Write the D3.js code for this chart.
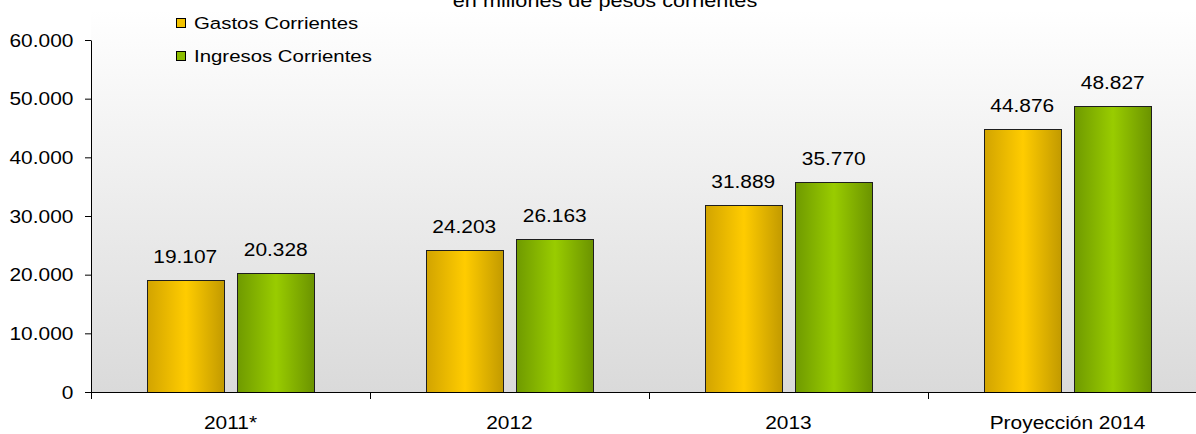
<!DOCTYPE html>
<html>
<head>
<meta charset="utf-8">
<script src="https://cdn.jsdelivr.net/npm/d3@7"></script>
<style>
  body { margin: 0; background: #fff; overflow: hidden; }
  svg { display: block; font-family: "Liberation Sans", Arial, sans-serif; }
</style>
</head>
<body>
<svg id="chart"></svg>
<script>
// data
const categories = ["2011*", "2012", "2013", "Proyección 2014"];
const series = ["Gastos Corrientes", "Ingresos Corrientes"];
const gastos = [19107, 24203, 31889, 44876];
const ingresos = [20328, 26163, 35770, 48827];
const yTicks = [0, 10000, 20000, 30000, 40000, 50000, 60000];
const title = "en millones de pesos corrientes";

const values = { "Gastos Corrientes": gastos, "Ingresos Corrientes": ingresos };
const colors = {
  "Gastos Corrientes": { id: "gradGastos", edge: "#d2a400", mid: "#ffcc00", edge2: "#c29a00", key: "#f2c200" },
  "Ingresos Corrientes": { id: "gradIngresos", edge: "#6f9a00", mid: "#99cc00", edge2: "#6b9300", key: "#8cbd00" }
};

const W = 1196, H = 434;
const plot = { left: 91, right: 1207, top: 40, bottom: 392 };

const fmt = d3.formatLocale({ decimal: ",", thousands: ".", grouping: [3], currency: ["$", ""] }).format(",d");

const svg = d3.select("#chart").attr("width", W).attr("height", H);

const y = d3.scaleLinear().domain([0, 60000]).range([plot.bottom, plot.top]);
const x0 = d3.scaleBand().domain(categories).range([plot.left, plot.right]);
const x1 = d3.scaleBand()
  .domain(series)
  .range([x0.bandwidth() * 0.2, x0.bandwidth() * 0.8])
  .paddingInner(0.15);
const xEdge = d3.scaleLinear().domain([0, categories.length]).range([plot.left, plot.right]);

// gradients
const defs = svg.append("defs");
const bg = defs.append("linearGradient").attr("id", "bgGrad")
  .attr("x1", 0).attr("y1", 0).attr("x2", 0).attr("y2", 1);
bg.append("stop").attr("offset", "0%").attr("stop-color", "#ffffff");
bg.append("stop").attr("offset", "100%").attr("stop-color", "#dadada");

series.forEach(function (s) {
  const c = colors[s];
  const g = defs.append("linearGradient").attr("id", c.id)
    .attr("x1", 0).attr("y1", 0).attr("x2", 1).attr("y2", 0);
  g.append("stop").attr("offset", "0%").attr("stop-color", c.edge);
  g.append("stop").attr("offset", "50%").attr("stop-color", c.mid);
  g.append("stop").attr("offset", "100%").attr("stop-color", c.edge2);
});

// plot background
svg.append("rect")
  .attr("x", plot.left)
  .attr("y", 10)
  .attr("width", plot.right - plot.left)
  .attr("height", plot.bottom - 10)
  .attr("fill", "url(#bgGrad)");

// title (cut off at top, as in the original)
svg.append("text")
  .attr("transform", "translate(605,7) scale(1.14,1)")
  .attr("text-anchor", "middle")
  .style("font-size", "19px")
  .text(title);

// bars
const groups = svg.append("g")
  .selectAll("g")
  .data(categories)
  .join("g")
  .attr("transform", function (c) { return "translate(" + x0(c) + ",0)"; });

groups.selectAll("rect")
  .data(function (c, i) { return series.map(function (s) { return { s: s, v: values[s][i] }; }); })
  .join("rect")
  .attr("x", function (d) { return Math.round(x1(d.s)) + 0.5; })
  .attr("y", function (d) { return Math.round(y(d.v)) + 0.5; })
  .attr("width", Math.round(x1.bandwidth()))
  .attr("height", function (d) { return plot.bottom - Math.round(y(d.v)); })
  .attr("fill", function (d) { return "url(#" + colors[d.s].id + ")"; })
  .attr("stroke", "#1e1e1e")
  .attr("stroke-width", 1);

groups.selectAll("text")
  .data(function (c, i) { return series.map(function (s) { return { s: s, v: values[s][i] }; }); })
  .join("text")
  .attr("transform", function (d) {
    return "translate(" + (x1(d.s) + x1.bandwidth() / 2) + "," + (y(d.v) - 17) + ") scale(1.1,1)";
  })
  .attr("text-anchor", "middle")
  .style("font-size", "19px")
  .text(function (d) { return fmt(d.v); });

// y axis
const yAxis = svg.append("g")
  .attr("transform", "translate(" + plot.left + ",0)")
  .call(d3.axisLeft(y).tickValues(yTicks).tickFormat(fmt).tickSize(6).tickSizeOuter(0).tickPadding(10));
yAxis.selectAll("path, line").attr("stroke", "#000");
yAxis.selectAll("text")
  .attr("fill", "#000")
  .style("font-size", "19px")
  .style("font-family", "'Liberation Sans', Arial, sans-serif")
  .attr("transform", "scale(1.1,1)");

// x axis: edge ticks between categories
const xTicks = svg.append("g")
  .attr("transform", "translate(0," + plot.bottom + ")")
  .call(d3.axisBottom(xEdge).tickValues(d3.range(categories.length + 1)).tickFormat("").tickSize(7).tickSizeOuter(0));
xTicks.selectAll("path, line").attr("stroke", "#000");

// x axis: category labels
const xLabels = svg.append("g")
  .attr("transform", "translate(0," + plot.bottom + ")")
  .call(d3.axisBottom(x0).tickSize(0));
xLabels.select(".domain").remove();
xLabels.selectAll("text")
  .attr("y", 37)
  .attr("dy", null)
  .attr("fill", "#000")
  .style("font-size", "19px")
  .style("font-family", "'Liberation Sans', Arial, sans-serif")
  .attr("transform", "scale(1.1,1)");

// legend
const legend = svg.append("g")
  .selectAll("g")
  .data(series)
  .join("g")
  .attr("transform", function (d, i) { return "translate(176," + (18 + i * 33) + ")"; });

legend.append("rect")
  .attr("x", 0.5).attr("y", 0.5)
  .attr("width", 9).attr("height", 9)
  .attr("fill", function (d) { return colors[d].key; })
  .attr("stroke", "#000");

legend.append("text")
  .attr("transform", "translate(18,11) scale(1.2,1)")
  .style("font-size", "17px")
  .text(function (d) { return d; });
</script>
</body>
</html>
